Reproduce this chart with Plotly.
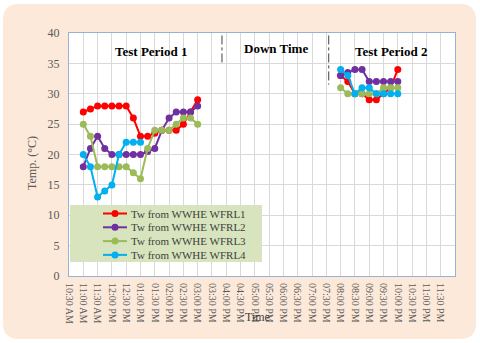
import plotly.graph_objects as go

D = "2000-01-01 "

# Test period 1 times (15-min steps)
t1 = ["11:00", "11:15", "11:30", "11:45", "12:00", "12:15", "12:30", "12:45",
      "13:00", "13:15", "13:30", "13:45", "14:00", "14:15", "14:30", "14:45", "15:00"]
t1_blue = ["11:00", "11:15", "11:30", "11:45", "12:00", "12:15", "12:30", "12:45", "13:00"]
# Test period 2 times
t2 = ["20:00", "20:15", "20:30", "20:45", "21:00", "21:15", "21:30", "21:45", "22:00"]

wfrl1_p1 = [27, 27.5, 28, 28, 28, 28, 28, 26, 23, 23, 23.5, 24, 24, 24, 25, 27, 29]
wfrl2_p1 = [18, 21, 23, 21, 20, 20, 20, 20, 20, 20.5, 21, 24, 26, 27, 27, 27, 28]
wfrl3_p1 = [25, 23, 18, 18, 18, 18, 18, 17, 16, 21, 24, 24, 24, 25, 26, 26, 25]
wfrl4_p1 = [20, 18, 13, 14, 15, 20, 22, 22, 22]

wfrl1_p2 = [33, 32, 30, 30, 29, 29, 30, 31, 34]
wfrl2_p2 = [33, 33.5, 34, 34, 32, 32, 32, 32, 32]
wfrl3_p2 = [31, 30, 30, 30, 30, 30, 31, 31, 31]
wfrl4_p2 = [34, 33, 30, 31, 31, 30, 30, 30, 30]

names = ["Tw from WWHE WFRL1", "Tw from WWHE WFRL2", "Tw from WWHE WFRL3", "Tw from WWHE WFRL4"]
colors = ["#FF0000", "#7030A0", "#9BBB59", "#00B0F0"]

tick_times = ["10:30", "11:00", "11:30", "12:00", "12:30", "13:00", "13:30", "14:00", "14:30",
              "15:00", "15:30", "16:00", "16:30", "17:00", "17:30", "18:00", "18:30", "19:00",
              "19:30", "20:00", "20:30", "21:00", "21:30", "22:00", "22:30", "23:00", "23:30"]
tick_labels = ["10:30 AM", "11:00 AM", "11:30 AM", "12:00 PM", "12:30 PM", "01:00 PM", "01:30 PM",
               "02:00 PM", "02:30 PM", "03:00 PM", "03:30 PM", "04:00 PM", "04:30 PM", "05:00 PM",
               "05:30 PM", "06:00 PM", "06:30 PM", "07:00 PM", "07:30 PM", "08:00 PM", "08:30 PM",
               "09:00 PM", "09:30 PM", "10:00 PM", "10:30 PM", "11:00 PM", "11:30 PM"]

separators = ["15:51", "19:35"]

SERIF = "Liberation Serif, Times New Roman, serif"

fig = go.Figure()
p1 = [(wfrl1_p1, t1), (wfrl2_p1, t1), (wfrl3_p1, t1), (wfrl4_p1, t1_blue)]
p2 = [wfrl1_p2, wfrl2_p2, wfrl3_p2, wfrl4_p2]
for i in range(4):
    vals, ts = p1[i]
    fig.add_trace(go.Scatter(
        x=[D + t for t in ts], y=vals, mode="lines+markers", name=names[i],
        line=dict(color=colors[i], width=2), marker=dict(color=colors[i], size=7),
        showlegend=False))
    fig.add_trace(go.Scatter(
        x=[D + t for t in t2], y=p2[i], mode="lines+markers", name=names[i],
        line=dict(color=colors[i], width=2), marker=dict(color=colors[i], size=7),
        showlegend=False))

# pixel helpers (plot area: x 69-455, y 33-276)
W, H = 386.0, 243.0
def px(x):
    return (x - 69) / W
def py(y):
    return (276 - y) / H

# background rounded panel
L, R, T, B, rad = 3, 476, 4, 339, 16
path = (f"M {px(L+rad)} {py(T)} L {px(R-rad)} {py(T)} Q {px(R)} {py(T)} {px(R)} {py(T+rad)} "
        f"L {px(R)} {py(B-rad)} Q {px(R)} {py(B)} {px(R-rad)} {py(B)} "
        f"L {px(L+rad)} {py(B)} Q {px(L)} {py(B)} {px(L)} {py(B-rad)} "
        f"L {px(L)} {py(T+rad)} Q {px(L)} {py(T)} {px(L+rad)} {py(T)} Z")
fig.add_shape(type="path", path=path, xref="paper", yref="paper",
              fillcolor="#FCE9DA", line=dict(width=0), layer="below")
fig.add_shape(type="rect", x0=0, x1=1, y0=0, y1=1, xref="paper", yref="paper",
              fillcolor="white", line=dict(width=0), layer="below")

# period separators
for s, ytop in zip(separators, [34.8, 31.5]):
    fig.add_shape(type="line", x0=D + s, x1=D + s, y0=39.6, y1=ytop, xref="x", yref="y",
                  line=dict(color="#404040", width=1, dash="dashdot"))

for txt, xt, yt in [("Test Period 1", "13:22", 36.9), ("Down Time", "17:45", 37.4), ("Test Period 2", "21:45", 37.0)]:
    fig.add_annotation(x=D + xt, y=yt, text="<b>" + txt + "</b>", showarrow=False,
                       xref="x", yref="y", font=dict(family=SERIF, size=13, color="black"))

fig.add_annotation(text="Time", x=px(257), y=py(326), xref="paper", yref="paper",
                   showarrow=False, font=dict(family=SERIF, size=12, color="#404040"))
fig.add_annotation(text="Temp. (°C)", x=px(23), y=py(163), xref="paper", yref="paper",
                   textangle=-90, showarrow=False,
                   font=dict(family=SERIF, size=12, color="#595959"))

# legend (drawn as decoration)
fig.add_shape(type="rect", x0=px(70), x1=px(262), y0=py(262), y1=py(205),
              xref="paper", yref="paper", fillcolor="#D7E4BD", line=dict(width=0))
for i in range(4):
    yy = 213.5 + 13.8 * i
    fig.add_shape(type="line", x0=px(103), x1=px(127), y0=py(yy), y1=py(yy),
                  xref="paper", yref="paper", line=dict(color=colors[i], width=2))
    fig.add_shape(type="circle", x0=px(111.5), x1=px(118.5), y0=py(yy + 3.5), y1=py(yy - 3.5),
                  xref="paper", yref="paper", fillcolor=colors[i], line=dict(width=0))
    fig.add_annotation(text=names[i], x=px(129), y=py(yy), xref="paper", yref="paper",
                       xanchor="left", yanchor="middle", showarrow=False,
                       font=dict(family=SERIF, size=11, color="#404040"))

fig.update_layout(
    width=480, height=343,
    margin=dict(l=69, r=25, t=33, b=67),
    paper_bgcolor="white", plot_bgcolor="white",
    font=dict(family=SERIF, color="#595959"),
    showlegend=False,
    xaxis=dict(type="date", range=[D + "10:30", "2000-01-02 00:00"],
               tickvals=[D + t for t in tick_times], ticktext=tick_labels,
               tickangle=90, tickfont=dict(family=SERIF, size=10, color="#595959"),
               ticklabelstandoff=4, automargin=False,
               showgrid=True, gridcolor="#D9D9D9", gridwidth=1,
               showline=True, linecolor="#95B3D7", mirror=True, ticks=""),
    yaxis=dict(range=[0, 40], tickvals=[0, 5, 10, 15, 20, 25, 30, 35, 40],
               tickfont=dict(family=SERIF, size=12, color="#595959"),
               ticklabelstandoff=6, automargin=False,
               showgrid=True, gridcolor="#D9D9D9", zeroline=False,
               showline=True, linecolor="#95B3D7", mirror=True, ticks=""),
)

fig.write_html("out.html", config={"displayModeBar": False},
               post_script="document.body.style.margin='0';")
